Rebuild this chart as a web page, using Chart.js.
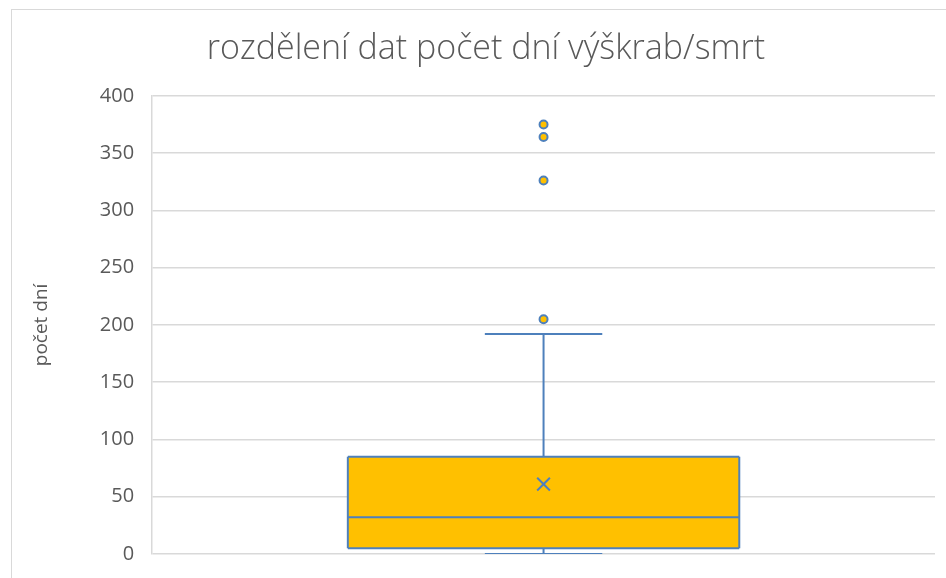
<!DOCTYPE html>
<html>
<head>
<meta charset="utf-8">
<script src="https://cdn.jsdelivr.net/npm/chart.js@4/dist/chart.umd.min.js"></script>
<style>
  html, body { margin: 0; padding: 0; background: #ffffff; }
  #wrap { position: relative; width: 946px; height: 578px; overflow: hidden; }
  #frame { position: absolute; left: 11px; top: 9px; width: 1000px; height: 1000px; border-left: 1px solid #d9d9d9; border-top: 1px solid #d9d9d9; }
  canvas { position: absolute; left: 0; top: 0; }
</style>
</head>
<body>
<div id="wrap">
  <div id="frame"></div>
  <canvas id="c" width="946" height="578"></canvas>
</div>
<script>
// ---- data ----
const titleText = 'rozdělení dat počet dní výškrab/smrt';
const axisTitle = 'počet dní';
const yTickValues = [0, 50, 100, 150, 200, 250, 300, 350, 400];
const quartile1 = 5;
const medianValue = 32;
const quartile3 = 85;
const meanValue = 61;
const whiskerLow = 0;
const whiskerHigh = 192;
const outlierValues = [205, 326, 364, 375];

// horizontal placement of the single box on a 0..2 category span
const center = 1;
const boxHalf = 0.5;
const capHalf = 0.15;

const blue = '#4E80BC';
const orange = '#FFC000';

const lineDs = (pts, extra) => Object.assign({
  type: 'line', data: pts, borderColor: blue, borderWidth: 2,
  pointRadius: 0, fill: false, tension: 0, order: 1
}, extra || {});

const datasets = [
  lineDs([{x: center - boxHalf, y: quartile1}, {x: center + boxHalf, y: quartile1}], {order: 3}),
  lineDs([{x: center - boxHalf, y: quartile3}, {x: center + boxHalf, y: quartile3}], {fill: 0, backgroundColor: orange, order: 3}),
  lineDs([{x: center - boxHalf, y: quartile1}, {x: center - boxHalf, y: quartile3}]),
  lineDs([{x: center + boxHalf, y: quartile1}, {x: center + boxHalf, y: quartile3}]),
  lineDs([{x: center - boxHalf, y: medianValue}, {x: center + boxHalf, y: medianValue}]),
  lineDs([{x: center, y: quartile3}, {x: center, y: whiskerHigh}]),
  lineDs([{x: center, y: whiskerLow}, {x: center, y: quartile1}]),
  lineDs([{x: center - capHalf, y: whiskerHigh}, {x: center + capHalf, y: whiskerHigh}]),
  lineDs([{x: center - capHalf, y: whiskerLow}, {x: center + capHalf, y: whiskerLow}]),
  { type: 'scatter', data: [{x: center, y: meanValue}], pointStyle: 'crossRot', pointRadius: 9,
    borderColor: blue, pointBorderWidth: 2, borderWidth: 2, order: 0 },
  { type: 'scatter', data: outlierValues.map(v => ({x: center, y: v})), pointStyle: 'circle', pointRadius: 4,
    backgroundColor: orange, borderColor: blue, borderWidth: 2, order: 0 }
];

new Chart(document.getElementById('c'), {
  type: 'line',
  data: { datasets },
  options: {
    responsive: false,
    animation: false,
    events: [],
    layout: { padding: { left: 30, right: 4, top: 29, bottom: 24 } },
    plugins: {
      legend: { display: false },
      tooltip: { enabled: false },
      title: {
        display: true, text: titleText, color: '#595959',
        font: { family: '"Open Sans"', size: 34, weight: '300' },
        padding: { top: 0, bottom: 26 }
      }
    },
    scales: {
      x: { type: 'linear', min: 0, max: 2, display: false },
      y: {
        type: 'linear', min: 0, max: 400,
        afterBuildTicks: (s) => { s.ticks = yTickValues.map(v => ({ value: v })); },
        afterFit: (s) => { s.paddingBottom = 0; s.paddingTop = 0; },
        grid: { color: '#d9d9d9', lineWidth: 1.5, drawTicks: false },
        border: { display: true, color: '#d9d9d9', width: 1.5 },
        ticks: { color: '#595959', padding: 18, font: { family: '"Open Sans"', size: 20 } },
        title: { display: true, text: axisTitle, color: '#595959',
          font: { family: '"Open Sans"', size: 19 }, padding: { top: 0, bottom: 29 } }
      }
    }
  }
});
</script>
</body>
</html>
